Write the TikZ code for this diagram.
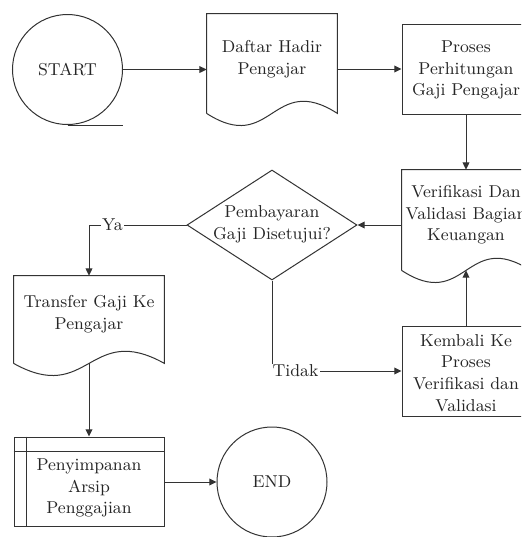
\documentclass[tikz,border=0pt]{standalone}
\usepackage{fontspec}
\usetikzlibrary{shapes.geometric,arrows.meta,calc}
\tikzset{
  shp/.style={draw=black!80, line width=0.5pt},
  conn/.style={draw=black!80, line width=0.5pt},
  arr/.style={conn, -{Triangle[length=3.6pt,width=3.4pt]}},
  fnt/.style={font=\fontsize{8.6pt}{10.85pt}\selectfont, text=black!85},
  txt/.style={fnt, align=center, inner sep=0pt},
  termbox/.style={circle, shp, fnt, minimum size=55pt, inner sep=0pt},
  plain/.style={rectangle, draw=none, inner sep=0pt},
  procbox/.style={rectangle, shp, inner sep=0pt},
  lbl/.style={fnt, fill=white, inner sep=0.6pt},
}
\newcommand\docoutline[1]{%
  \draw[shp] (#1.south west) -- (#1.north west) -- (#1.north east) -- (#1.south east)
    .. controls ($(#1.south)+(0,-42)$) and ($(#1.south)+(0,42)$) .. (#1.south west);}
\begin{document}
\begin{tikzpicture}[x=0.5pt, y=-0.5pt]
\clip (0,0) rectangle (521,537);
\fill[white] (0,0) rectangle (521,537);

% START
\node[termbox] (start) at (67.5,69.5) {START};
\draw[shp] (start.south) -- ++(55,0);

% Daftar Hadir (document)
\node[plain, minimum width=65pt, minimum height=49.5pt] (daftar) at (272,63.5) {};
\docoutline{daftar}
\node[txt] (daftart) at ($(daftar.center)+(0,-4.5)$) {Daftar Hadir\\Pengajar};

% Proses
\node[procbox, minimum width=64pt, minimum height=45pt] (proses) at (466,69) {};
\node[txt] (prosest) at ($(proses.center)+(0,1)$) {Proses\\Perhitungan\\Gaji Pengajar};

% Verifikasi (document)
\node[plain, minimum width=64pt, minimum height=50pt] (verif) at (466,220) {};
\docoutline{verif}
\node[txt] (veriftt) at ($(verif.center)+(0,-5)$) {Verifikasi Dan\\Validasi Bagian\\Keuangan};

% Diamond
\node[diamond, shp, minimum width=85pt, minimum height=55pt, inner sep=0pt] (dia) at (272,225) {};
\node[txt] (diat) at ($(dia.center)+(0,-1)$) {Pembayaran\\Gaji Disetujui?};

% Transfer (document)
\node[plain, minimum width=75pt, minimum height=43.5pt] (transfer) at (89,319.5) {};
\docoutline{transfer}
\node[txt] (transfert) at ($(transfer.center)+(0,-5.5)$) {Transfer Gaji Ke\\Pengajar};

% Penyimpanan (predefined process / storage)
\node[procbox, minimum width=75pt, minimum height=44.5pt] (pen) at (89,481.5) {};
\draw[shp] ($(pen.north west)+(13,0)$) -- ($(pen.south west)+(13,0)$);
\draw[shp] ($(pen.north west)+(0,15)$) -- ($(pen.north east)+(0,15)$);
\node[txt] (pent) at ($(pen.center)+(0,6.5)$) {Penyimpanan\\Arsip\\Penggajian};

% END
\node[termbox] (end) at (272,482) {END};

% Kembali
\node[procbox, minimum width=64pt, minimum height=45pt] (kembali) at (466,371) {};
\node[txt] (kembalit) at ($(kembali.center)+(0,2)$) {Kembali Ke\\Proses\\Verifikasi dan\\Validasi};

% connectors
\draw[arr] (start.east) -- (start.east -| daftar.west);
\draw[arr] (proses.west -| daftar.east) -- (proses.west);
\draw[arr] (proses.south) -- (verif.north);
\draw[arr] (dia.east -| verif.west) -- (dia.east);
\draw[arr] (dia.west) -| (transfer.north) node[lbl, pos=0.38] (ya) {Ya};
\draw[arr] (transfer.south) -- (pen.north);
\draw[arr] (pen.east |- end.west) -- (end.west);
\draw[arr] (dia.south) |- (kembali.west) node[lbl, pos=0.5, anchor=west, xshift=-0.5pt] (tidak) {Tidak};
\draw[arr] (kembali.north) -- (verif.south);
\end{tikzpicture}
\end{document}
